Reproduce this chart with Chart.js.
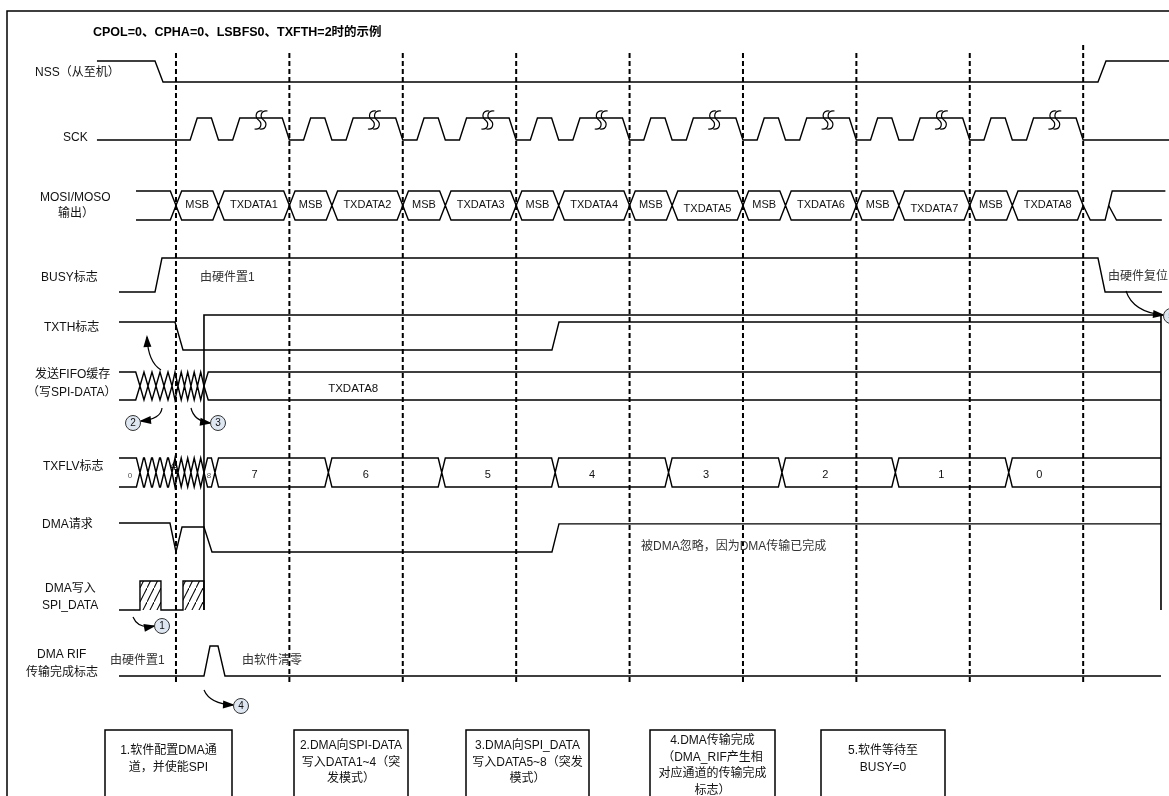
<!DOCTYPE html>
<html><head><meta charset="utf-8">
<script src="https://cdn.jsdelivr.net/npm/chart.js@4.4.0/dist/chart.umd.min.js"></script>
<style>html,body{margin:0;padding:0;background:#fff;}#wrap{width:1169px;height:796px;position:relative;}</style>
</head><body><div id="wrap"><canvas id="c"></canvas></div>
<script>
// ===== DATA (time unit = 1/16 of a frame; dashed marks at frame boundaries) =====
const dashTimes = [0,16,32,48,64,80,96,112,128];
const nssWave = [[-11.15,1],[-2.96,1],[-1.83,0],[130.09,0],[131.22,1],[140.2,1]];
const sckWave = [[-11.15,0],
 [2,0],[3,1],[5,1],[6,0],[8,0],[9,1],[15,1],[16,0],
 [18,0],[19,1],[21,1],[22,0],[24,0],[25,1],[31,1],[32,0],
 [34,0],[35,1],[37,1],[38,0],[40,0],[41,1],[47,1],[48,0],
 [50,0],[51,1],[53,1],[54,0],[56,0],[57,1],[63,1],[64,0],
 [66,0],[67,1],[69,1],[70,0],[72,0],[73,1],[79,1],[80,0],
 [82,0],[83,1],[85,1],[86,0],[88,0],[89,1],[95,1],[96,0],
 [98,0],[99,1],[101,1],[102,0],[104,0],[105,1],[111,1],[112,0],
 [114,0],[115,1],[117,1],[118,0],[120,0],[121,1],[127,1],[128,0],
 [140.2,0]];
const sckBreakTimes = [12,28,44,60,76,92,108,124];
const mosiBounds = [-5.64,0,6,16,22,32,38,48,54,64,70,80,86,96,102,112,118,128];
const mosiLabels = ['', 'MSB','TXDATA1','MSB','TXDATA2','MSB','TXDATA3','MSB','TXDATA4','MSB','TXDATA5','MSB','TXDATA6','MSB','TXDATA7','MSB','TXDATA8'];
const mosiTailA = [[128,0.5],[129,0],[131.1,0],[132.1,1],[139.6,1]];
const mosiTailB = [[131.6,0.5],[132.7,0],[139.1,0]];
const busyWave = [[-8.04,0],[-2.96,0],[-1.98,1],[130.09,1],[131.09,0],[139.12,0]];
const txthWave = [[-8.04,1],[-0.14,1],[0.99,0],[53.05,0],[54.04,1],[138.98,1]];
const fifoBounds = [-8.04,-5.08,-3.95,-2.82,-1.69,-0.56,0.28,1.2,2.11,3.03,3.95,138.98];
const fifoLabel = 'TXDATA8', fifoLabelTime = 25;
const txflvBounds = [-8.04,-5.08,-3.95,-2.82,-1.69,-0.56,0.28,1.2,2.11,3.03,3.95,5.5,21.5,37.5,53.5,69.5,85.5,101.5,117.5,138.98];
const txflvValues = ['0','4','8','7','6','5','4','3','2','1','0'];
const txflvValueTimes = [-6.5,-0.4,4.66,11.1,26.8,44.0,58.7,74.8,91.6,108,121.8];
const dmaReqWave = [[-8.04,1],[-0.85,1],[0,0],[0.85,0.86],[3.95,0.86],[5.08,0],[53.05,0],[54.04,0.97],[138.98,0.97]];
const dmaWrWave = [[-8.04,0],[-5.08,0],[-5.08,1],[-2.12,1],[-2.12,0],[0.99,0],[0.99,1],[3.95,1],[3.95,0]];
const rifWave = [[-8.04,0],[3.95,0],[4.8,1],[5.93,1],[6.91,0],[138.98,0]];
const dmaDoneBox = [[3.95,1],[3.95,0],[138.98,0],[138.98,1]];

// ===== LAYOUT / STYLE =====
const FONT = "'Liberation Sans', Arial, 'Noto Sans CJK SC', sans-serif";
const lanes = {
  nss:{hi:61,lo:82}, sck:{hi:118,lo:140}, mosi:{hi:191,lo:220}, busy:{hi:258,lo:292},
  txth:{hi:322,lo:350}, fifo:{hi:372,lo:400}, txflv:{hi:458,lo:487}, dmaReq:{hi:523,lo:552},
  dmaWr:{hi:581,lo:610}, rif:{hi:646,lo:676}, block:{hi:610,lo:315}
};
const X_MIN = -24.83, X_MAX = 140.11;
const leftLabels = [
  ['NSS（从至机）',35,73],['SCK',63,138],['MOSI/MOSO',40,198],['输出）',58,214],
  ['BUSY标志',41,278],['TXTH标志',44,328],['发送FIFO缓存',35,375],['（写SPI-DATA）',27,393],
  ['TXFLV标志',43,467],['DMA请求',42,525],['DMA写入',45,589],['SPI_DATA',42,606],
  ['DMA RIF',37,655],['传输完成标志',26,673]
];
const notes = [
  ['由硬件置1',200,278],['由硬件复位',1108,277],['被DMA忽略，因为DMA传输已完成',641,547],
  ['由硬件置1',110,661],['由软件清零',242,661]
];
const boxes = [
  {x0:105,x1:232,lines:['1.软件配置DMA通','道，并使能SPI'],y0:751},
  {x0:294,x1:408,lines:['2.DMA向SPI-DATA','写入DATA1~4（突','发模式）'],y0:746},
  {x0:466,x1:589,lines:['3.DMA向SPI_DATA','写入DATA5~8（突发','模式）'],y0:746},
  {x0:650,x1:775,lines:['4.DMA传输完成','（DMA_RIF产生相','对应通道的传输完成','标志）'],y0:741},
  {x0:821,x1:945,lines:['5.软件等待至','BUSY=0'],y0:751}
];
const boxTop = 730;
const markers = [
  {n:'1',c:[162,626],a:[[133,617],[138,629],[154,626]]},
  {n:'2',c:[133,423],a:[[162,408],[161,419],[141,421]]},
  {n:'3',c:[218,423],a:[[191,408],[194,421],[210,423]]},
  {n:'4',c:[241,706],a:[[204,690],[210,704],[233,705]]},
  {n:'5',c:[1171,316],a:[[1126,291],[1133,312],[1163,315]]},
  {n:'',c:null,a:[[161,370],[148,362],[147,337]]}
];

// ===== BUILD =====
function lvl(lane,l){ return lane.lo + (lane.hi-lane.lo)*l; }
function wave(arr,lane){ return arr.map(([t,l])=>({x:t,y:lvl(lane,l)})); }
function bus(bounds,lane,w,openStart,openEnd){
  const mid=(lane.hi+lane.lo)/2, pts=[];
  for(let i=0;i<bounds.length-1;i++){
    const a=bounds[i], b=bounds[i+1], half=(b-a)/2;
    const os=openStart&&i===0, oe=openEnd&&i===bounds.length-2;
    const wl=os?0:Math.min(w,half), wr=oe?0:Math.min(w,half);
    for(const yy of [lane.hi,lane.lo]){
      if(!os) pts.push({x:a,y:mid});
      pts.push({x:a+wl,y:yy}); pts.push({x:b-wr,y:yy});
      if(!oe) pts.push({x:b,y:mid});
      pts.push({x:(a+b)/2,y:null});
    }
  }
  return pts;
}
function ds(points,opts){
  return Object.assign({data:points,borderColor:'#000',borderWidth:1.4,pointRadius:0,pointHoverRadius:0,
    fill:false,tension:0,spanGaps:false,xAxisID:'x',yAxisID:'y'},opts||{});
}
const pc=document.createElement('canvas'); pc.width=7; pc.height=14;
const pg=pc.getContext('2d'); pg.strokeStyle='#000'; pg.lineWidth=1.1;
pg.beginPath(); pg.moveTo(-1,15.8); pg.lineTo(8,-1.8); pg.stroke();
const hatch=pg.createPattern(pc,'repeat');

const datasets=[];
datasets.push(ds([{x:7,y:800},{x:7,y:11},{x:1169,y:11}],{xAxisID:'xl',borderWidth:1.5}));
dashTimes.forEach((t,i)=>datasets.push(ds([{x:t,y:i===dashTimes.length-1?45:53},{x:t,y:682}],{borderDash:[5,3],borderWidth:2})));
datasets.push(ds(wave(nssWave,lanes.nss)));
datasets.push(ds(wave(sckWave,lanes.sck)));
datasets.push(ds(bus(mosiBounds,lanes.mosi,0.8,true,false)));
datasets.push(ds(wave(mosiTailA,lanes.mosi)));
datasets.push(ds(wave(mosiTailB,lanes.mosi)));
datasets.push(ds(wave(busyWave,lanes.busy)));
datasets.push(ds(wave(txthWave,lanes.txth)));
datasets.push(ds(bus(fifoBounds,lanes.fifo,0.6,true,true)));
datasets.push(ds(bus(txflvBounds,lanes.txflv,0.5,true,true)));
datasets.push(ds(wave(dmaReqWave,lanes.dmaReq)));
datasets.push(ds(wave(dmaWrWave,lanes.dmaWr),{fill:{value:lanes.dmaWr.lo},backgroundColor:hatch}));
datasets.push(ds(wave(rifWave,lanes.rif)));
datasets.push(ds(wave(dmaDoneBox,lanes.block),{borderWidth:1.6}));
boxes.forEach(b=>datasets.push(ds([{x:b.x0,y:800},{x:b.x0,y:boxTop},{x:b.x1,y:boxTop},{x:b.x1,y:800}],{xAxisID:'xl',borderWidth:1.5})));

function txt(ctx,s,px,py,size,opt){
  opt=opt||{};
  ctx.font=(opt.bold?'bold ':'')+size+'px '+FONT;
  ctx.fillStyle=opt.color||'#111';
  ctx.textAlign=opt.align||'left';
  ctx.textBaseline='middle';
  ctx.fillText(s,px,py);
}
const annot={
  id:'annot',
  afterDatasetsDraw(chart){
    const ctx=chart.ctx, X=chart.scales.x, XL=chart.scales.xl, Y=chart.scales.y;
    ctx.save();
    ctx.strokeStyle='#000'; ctx.lineWidth=1.2;
    sckBreakTimes.forEach(t=>{
      const cx=X.getPixelForValue(t), cy=Y.getPixelForValue((lanes.sck.hi+lanes.sck.lo)/2-9);
      [-2.5,2.5].forEach(dx=>{
        const x0=cx+dx;
        ctx.beginPath();
        ctx.moveTo(x0+4,cy-9);
        ctx.bezierCurveTo(x0-3,cy-10,x0-4,cy-3,x0,cy);
        ctx.bezierCurveTo(x0+4,cy+3,x0+3,cy+10,x0-4,cy+9);
        ctx.stroke();
      });
    });
    txt(ctx,'CPOL=0、CPHA=0、LSBFS0、TXFTH=2时的示例',XL.getPixelForValue(93),Y.getPixelForValue(33),12.5,{bold:true,color:'#000'});
    leftLabels.forEach(([s,px,py])=>txt(ctx,s,XL.getPixelForValue(px),Y.getPixelForValue(py),12,{color:'#111'}));
    notes.forEach(([s,px,py])=>txt(ctx,s,XL.getPixelForValue(px),Y.getPixelForValue(py),12,{color:'#333'}));
    const mmid=(lanes.mosi.hi+lanes.mosi.lo)/2;
    mosiLabels.forEach((s,i)=>{
      if(!s) return;
      const t=(mosiBounds[i]+mosiBounds[i+1])/2;
      const off=(s==='TXDATA5'||s==='TXDATA7')?4:0;
      txt(ctx,s,X.getPixelForValue(t),Y.getPixelForValue(mmid-1+off),11,{align:'center'});
    });
    txt(ctx,fifoLabel,X.getPixelForValue(fifoLabelTime),Y.getPixelForValue(389),11.5,{align:'center'});
    txflvValues.forEach((s,i)=>{
      const small=(i===0||i===2);
      const py=i===1?467:(small?476:475);
      txt(ctx,s,X.getPixelForValue(txflvValueTimes[i]),Y.getPixelForValue(py),small?8:11,{align:'center',color:small?'#555':'#111'});
    });
    boxes.forEach(b=>{
      const cx=XL.getPixelForValue((b.x0+b.x1)/2);
      b.lines.forEach((s,k)=>txt(ctx,s,cx,Y.getPixelForValue(b.y0+k*16.5),12,{align:'center',color:'#111'}));
    });
    markers.forEach(m=>{
      const p=m.a.map(([px,py])=>[XL.getPixelForValue(px),Y.getPixelForValue(py)]);
      ctx.strokeStyle='#000'; ctx.lineWidth=1.2;
      ctx.beginPath(); ctx.moveTo(p[0][0],p[0][1]); ctx.quadraticCurveTo(p[1][0],p[1][1],p[2][0],p[2][1]); ctx.stroke();
      const ang=Math.atan2(p[2][1]-p[1][1],p[2][0]-p[1][0]);
      const L=10,W=4;
      ctx.fillStyle='#000'; ctx.beginPath();
      ctx.moveTo(p[2][0]+Math.cos(ang)*2,p[2][1]+Math.sin(ang)*2);
      ctx.lineTo(p[2][0]-Math.cos(ang)*L+Math.sin(ang)*W,p[2][1]-Math.sin(ang)*L-Math.cos(ang)*W);
      ctx.lineTo(p[2][0]-Math.cos(ang)*L-Math.sin(ang)*W,p[2][1]-Math.sin(ang)*L+Math.cos(ang)*W);
      ctx.closePath(); ctx.fill();
      if(m.c){
        const cx=XL.getPixelForValue(m.c[0]), cy=Y.getPixelForValue(m.c[1]);
        ctx.beginPath(); ctx.arc(cx,cy,7.5,0,Math.PI*2);
        ctx.fillStyle='#dde6f1'; ctx.fill(); ctx.lineWidth=1; ctx.strokeStyle='#333'; ctx.stroke();
        txt(ctx,m.n,cx,cy+0.5,10,{align:'center',color:'#111'});
      }
    });
    ctx.restore();
  }
};

new Chart(document.getElementById('c'),{
  type:'line',
  data:{datasets},
  options:{
    responsive:true, maintainAspectRatio:false, animation:false, devicePixelRatio:1, events:[],
    layout:{padding:0},
    plugins:{legend:{display:false},tooltip:{enabled:false},title:{display:false}},
    scales:{
      x:{type:'linear',min:X_MIN,max:X_MAX,display:false},
      xl:{type:'linear',min:0,max:1169,display:false},
      y:{type:'linear',min:0,max:796,reverse:true,display:false}
    }
  },
  plugins:[annot]
});
</script></body></html>
